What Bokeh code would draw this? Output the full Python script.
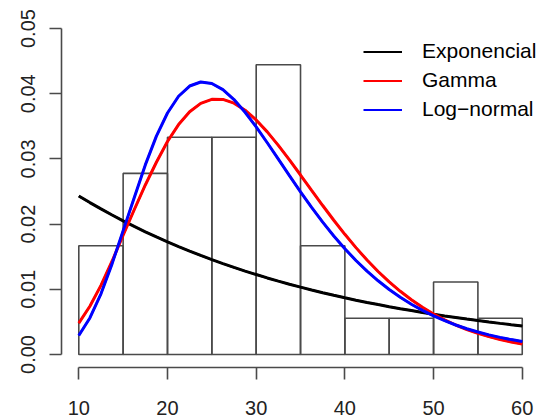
from bokeh.plotting import figure
from bokeh.models import Range1d, FixedTicker, Legend, LegendItem
from bokeh.embed import file_html
from bokeh.resources import INLINE

# Histogram (density) data
bin_edges = [10, 15, 20, 25, 30, 35, 40, 45, 50, 55, 60]
density = [0.01667, 0.02778, 0.03333, 0.03333, 0.04444, 0.01667,
           0.00556, 0.00556, 0.01111, 0.00556]

# Fitted density curves
curve_x = [10, 11.25, 12.5, 13.75, 15, 16.25, 17.5, 18.75, 20, 21.25, 22.5,
           23.75, 25, 26.25, 27.5, 28.75, 30, 31.25, 32.5, 33.75, 35, 36.25,
           37.5, 38.75, 40, 41.25, 42.5, 43.75, 45, 46.25, 47.5, 48.75, 50,
           51.25, 52.5, 53.75, 55, 56.25, 57.5, 58.75, 60]
exponencial = [0.02430, 0.02330, 0.02234, 0.02140, 0.02050, 0.01964, 0.01882,
               0.01803, 0.01727, 0.01655, 0.01585, 0.01519, 0.01455, 0.01394,
               0.01335, 0.01279, 0.01226, 0.01174, 0.01125, 0.01078, 0.01033,
               0.00989, 0.00948, 0.00908, 0.00870, 0.00833, 0.00798, 0.00765,
               0.00733, 0.00702, 0.00673, 0.00644, 0.00617, 0.00591, 0.00567,
               0.00543, 0.00520, 0.00498, 0.00477, 0.00457, 0.00438]
gamma = [0.00480, 0.00740, 0.01060, 0.01430, 0.01830, 0.02220, 0.02600,
         0.02949, 0.03267, 0.03527, 0.03723, 0.03852, 0.03914, 0.03913,
         0.03855, 0.03747, 0.03598, 0.03415, 0.03208, 0.02986, 0.02753,
         0.02518, 0.02285, 0.02059, 0.01843, 0.01639, 0.01448, 0.01273,
         0.01113, 0.00969, 0.00839, 0.00723, 0.00621, 0.00531, 0.00452,
         0.00383, 0.00324, 0.00273, 0.00229, 0.00192, 0.00160]
lognormal = [0.00290, 0.00560, 0.00930, 0.01390, 0.01900, 0.02405, 0.02908,
             0.03349, 0.03704, 0.03961, 0.04118, 0.04180, 0.04156, 0.04062,
             0.03910, 0.03716, 0.03491, 0.03248, 0.02996, 0.02743, 0.02495,
             0.02256, 0.02030, 0.01818, 0.01622, 0.01442, 0.01278, 0.01130,
             0.00997, 0.00877, 0.00770, 0.00676, 0.00592, 0.00518, 0.00452,
             0.00395, 0.00345, 0.00300, 0.00262, 0.00228, 0.00198]

series_names = ["Exponencial", "Gamma", "Log\u2212normal"]
series_colors = ["black", "#ff0000", "#0000ff"]

x_ticks = [10, 20, 30, 40, 50, 60]
y_ticks = [0.0, 0.01, 0.02, 0.03, 0.04, 0.05]
y_tick_labels = ["0.00", "0.01", "0.02", "0.03", "0.04", "0.05"]

FONT = "Liberation Sans"

p = figure(width=537, height=418, output_backend="svg", toolbar_location=None,
           x_range=Range1d(8.05, 61.72), y_range=Range1d(-0.002, 0.052),
           min_border_left=61, min_border_right=0, min_border_top=15,
           min_border_bottom=51)
p.outline_line_color = None
p.grid.visible = False
p.background_fill_color = "white"
p.border_fill_color = "white"

# histogram
p.quad(left=bin_edges[:-1], right=bin_edges[1:], bottom=0, top=density,
       fill_color=None, line_color="#4a4a4a", line_width=1.6)

# thin proxy lines for the legend (hidden beneath the thick curves)
proxies = []
for ys, col in zip([exponencial, gamma, lognormal], series_colors):
    proxies.append(p.line(curve_x, ys, line_color=col, line_width=2))

# curves
for ys, col in zip([exponencial, gamma, lognormal], series_colors):
    p.line(curve_x, ys, line_color=col, line_width=3)

items = [LegendItem(label=n, renderers=[r]) for n, r in zip(series_names, proxies)]
legend = Legend(items=items, location=(302, 246), padding=0, margin=0,
                spacing=5, glyph_width=39, glyph_height=21, label_height=21,
                label_standoff=20, border_line_color=None,
                background_fill_alpha=0, label_text_font=FONT,
                label_text_font_size="21px", label_text_color="black")
p.add_layout(legend)

# axes
for ax in (p.xaxis[0], p.yaxis[0]):
    ax.axis_line_color = "#4a4a4a"
    ax.axis_line_width = 1.6
    ax.major_tick_line_color = "#4a4a4a"
    ax.major_tick_line_width = 1.6
    ax.major_tick_in = 0
    ax.major_tick_out = 12
    ax.minor_tick_line_color = None
    ax.major_label_text_font = FONT
    ax.major_label_text_font_size = "20px"
    ax.major_label_text_color = "#222222"

p.xaxis.ticker = FixedTicker(ticks=x_ticks)
p.xaxis.bounds = (x_ticks[0], x_ticks[-1])
p.xaxis.major_label_standoff = 21

p.yaxis.ticker = FixedTicker(ticks=y_ticks)
p.yaxis.bounds = (y_ticks[0], y_ticks[-1])
p.yaxis.major_label_overrides = {t: l for t, l in zip(y_ticks, y_tick_labels)}
p.yaxis.major_label_orientation = "vertical"
p.yaxis.major_label_standoff = 14

open("out.html", "w").write(file_html(p, INLINE))
